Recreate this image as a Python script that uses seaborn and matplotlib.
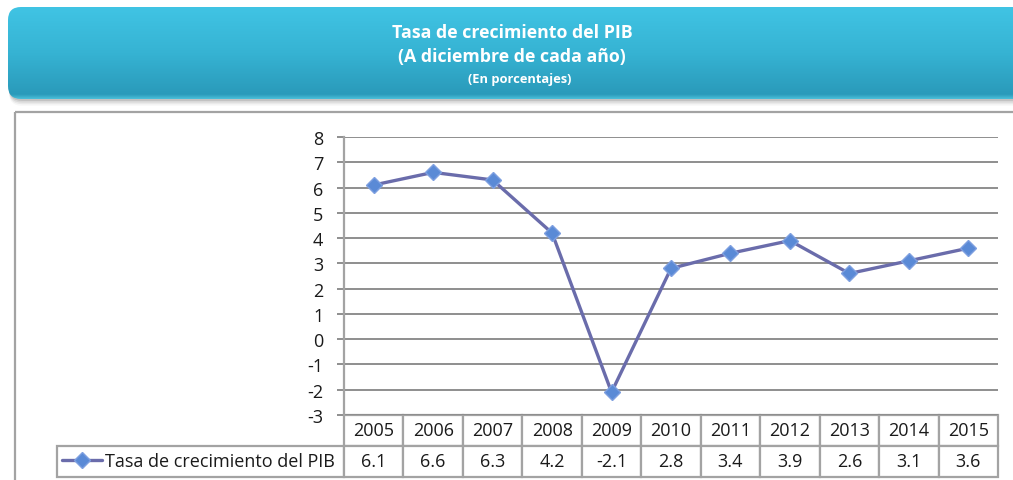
import numpy as np
import pandas as pd
import matplotlib
matplotlib.use("Agg")
import matplotlib.pyplot as plt
import seaborn as sns
from matplotlib.patches import FancyBboxPatch, Rectangle
from matplotlib.colors import LinearSegmentedColormap
from matplotlib.table import Table
from matplotlib import font_manager

# ---------------- data ----------------
years = ["2005", "2006", "2007", "2008", "2009", "2010",
         "2011", "2012", "2013", "2014", "2015"]
growth = [6.1, 6.6, 6.3, 4.2, -2.1, 2.8, 3.4, 3.9, 2.6, 3.1, 3.6]
yticks = list(range(-3, 9))
series_label = "Tasa de crecimiento del PIB"
title_lines = ["Tasa de crecimiento del PIB",
               "(A diciembre de cada año)",
               "(En porcentajes)"]

# ---------------- style ----------------
sns.set_theme(style="white")
names = {f.name for f in font_manager.fontManager.ttflist}
body_font = "Open Sans" if "Open Sans" in names else "DejaVu Sans"
plt.rcParams["font.family"] = [body_font, "DejaVu Sans"]

LINE_C = "#6a6cab"
MARK_C = "#5a8ad6"
MARK_E = "#7e9fe0"
GRID_C = "#8e8e8e"
BORDER_C = "#a3a3a3"
FS = 13

W, H = 1013, 481
fig = plt.figure(figsize=(W / 100, H / 100), dpi=100)
fig.patch.set_facecolor("white")

# background layer in pixel coordinates
bg = fig.add_axes([0, 0, 1, 1], zorder=0)
bg.axis("off")

# banner shadow
for i, a in enumerate([0.10, 0.07, 0.05, 0.03]):
    bg.add_patch(FancyBboxPatch((9, 10 + i * 1.6), 1020, 92,
                                boxstyle="round,pad=0,rounding_size=13",
                                fc="#000000", ec="none", alpha=a, zorder=1))
banner = FancyBboxPatch((8, 8), 1020, 92, boxstyle="round,pad=0,rounding_size=13",
                        fc="none", ec="none", zorder=2)
bg.add_patch(banner)
grad = np.linspace(0, 1, 256).reshape(-1, 1)
cmap = LinearSegmentedColormap.from_list(
    "banner", [(0, "#40c4e4"), (0.5, "#36b3d3"), (0.95, "#2a9aba"), (1.0, "#4cc0da")])
im = bg.imshow(grad, cmap=cmap, extent=(8, 1028, 100, 8), aspect="auto",
               zorder=2, interpolation="bilinear")
im.set_clip_path(banner)

# outer chart frame
bg.add_patch(Rectangle((14.5, 112.5), 1020, 400, fc="none", ec=BORDER_C, lw=1.6, zorder=1))

bg.set_xlim(0, W)
bg.set_ylim(H, 0)

bg.text(512, 33, title_lines[0], color="white", fontweight="bold", fontsize=12.8,
        ha="center", va="center", zorder=5)
bg.text(512, 57, title_lines[1], color="white", fontweight="bold", fontsize=12.8,
        ha="center", va="center", zorder=5)
bg.text(520, 80, title_lines[2], color="white", fontweight="bold", fontsize=9.3,
        ha="center", va="center", zorder=5)

# ---------------- main axes ----------------
L, R, T, B = 344, 998, 138, 416
ax = fig.add_axes([L / W, 1 - B / H, (R - L) / W, (B - T) / H], zorder=2)
ax.patch.set_alpha(0)

sns.pointplot(x=years, y=growth, ax=ax, color=LINE_C, markers="D",
              linestyles="-", errorbar=None)
ln = ax.lines[0]
ln.set_color(LINE_C)
ln.set_linewidth(2.4)
ln.set_markersize(8.5)
ln.set_markerfacecolor(MARK_C)
ln.set_markeredgecolor(MARK_E)
ln.set_markeredgewidth(1.0)
ln.set_zorder(5)

ax.set_xlim(-0.5, len(years) - 0.5)
ax.set_ylim(min(yticks), max(yticks))
ax.set_yticks(yticks)
ax.set_yticklabels([str(t) for t in yticks])
ax.yaxis.grid(True, color=GRID_C, lw=1.4)
ax.xaxis.grid(False)
ax.set_axisbelow(True)
for s in ["top", "right", "bottom"]:
    ax.spines[s].set_visible(False)
ax.spines["left"].set_color(BORDER_C)
ax.spines["left"].set_linewidth(1.6)
ax.tick_params(axis="y", left=True, length=5, width=1.4, color=GRID_C,
               pad=10, labelsize=FS, labelcolor="#1a1a1a")
ax.tick_params(axis="x", bottom=False, labelbottom=False)
ax.set_xlabel("")
ax.set_ylabel("")

# ---------------- data table ----------------
ph = B - T
pw = R - L
left_px, row_h = 57, 31
# bbox covers the grid cells only; the row-label column sits to its left
tbl = Table(ax, bbox=[0, -2 * row_h / ph, 1, 2 * row_h / ph])
cw = 1 / len(years)
for j, y in enumerate(years):
    tbl.add_cell(0, j, width=cw, height=0.1, text=y, loc="center")
    tbl.add_cell(1, j, width=cw, height=0.1, text=f"{growth[j]:.1f}", loc="center")
tbl.add_cell(1, -1, width=(L - left_px) / pw, height=0.1, text="", loc="left")
tbl.auto_set_font_size(False)
tbl.set_fontsize(FS)
for key, cell in tbl.get_celld().items():
    cell.set_edgecolor(BORDER_C)
    cell.set_linewidth(1.6)
    cell.set_facecolor("white")
    cell.get_text().set_color("#1a1a1a")
ax.add_table(tbl)

# legend inside the row-label cell
leg = ax.legend(handles=[ln], labels=[series_label], loc="center left",
                bbox_to_anchor=((62 - L) / pw, -(447 + 15.5 - B) / ph),
                frameon=False, fontsize=FS, handlelength=2.2, handletextpad=0.2,
                borderpad=0, borderaxespad=0)
for t in leg.get_texts():
    t.set_color("#1a1a1a")

fig.savefig("out.png", dpi=100, facecolor="white")
